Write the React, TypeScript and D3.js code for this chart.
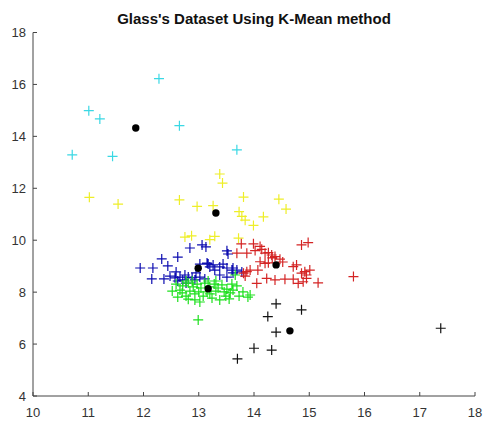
import React from "react";
import * as d3 from "d3";

const W = 484;
const H = 423;

const title = "Glass's Dataset Using K-Mean method";
const xTicks = [10, 11, 12, 13, 14, 15, 16, 17, 18];
const yTicks = [4, 6, 8, 10, 12, 14, 16, 18];

type P = [number, number];

const cyanPts: P[] = [
  [12.28, 16.22], [11.01, 14.99], [11.21, 14.67], [12.65, 14.41],
  [10.71, 13.29], [11.44, 13.23], [13.69, 13.48],
];

const yellowPts: P[] = [
  [11.02, 11.65], [11.54, 11.39], [12.65, 11.55], [12.97, 11.30], [13.26, 11.33],
  [13.38, 12.55], [13.43, 12.20], [13.81, 11.66], [13.73, 11.10], [13.78, 10.92],
  [13.84, 10.77], [13.99, 10.57], [14.17, 10.90], [14.45, 11.58], [14.58, 11.20],
  [12.75, 10.12], [12.87, 10.17], [13.20, 10.02], [13.29, 10.15], [13.72, 10.08],
];

const bluePts: P[] = [
  [11.94, 8.93], [12.17, 8.93], [12.15, 8.51], [12.33, 9.28], [12.44, 9.01],
  [12.62, 9.35], [12.84, 9.70], [13.06, 9.82], [13.13, 9.74], [13.51, 9.59],
  [13.53, 9.47], [13.02, 9.08], [13.17, 9.08], [13.20, 8.97], [13.38, 8.97],
  [13.44, 9.08], [13.51, 8.93], [13.62, 8.93], [13.69, 8.85], [13.78, 8.78],
  [12.57, 8.55], [12.66, 8.58], [12.75, 8.66], [12.81, 8.58], [12.88, 8.55],
  [12.71, 8.47], [13.38, 8.66], [13.51, 8.58], [13.62, 8.74], [13.15, 9.12],
  [13.26, 9.05], [13.60, 8.85], [12.62, 8.43], [12.77, 8.35], [12.93, 8.47],
  [13.02, 8.58], [13.11, 8.51], [12.48, 8.62], [12.37, 8.51], [12.59, 8.78],
  [12.95, 8.74], [13.29, 8.85],
];

const greenPts: P[] = [
  [12.52, 8.04], [12.59, 8.31], [12.66, 8.08], [12.71, 8.24], [12.77, 7.85],
  [12.81, 8.35], [12.84, 8.04], [12.90, 8.20], [12.93, 7.70], [12.97, 8.31],
  [13.00, 8.01], [13.04, 8.16], [13.08, 7.85], [13.11, 8.35], [13.15, 8.01],
  [13.20, 8.20], [13.24, 7.77], [13.28, 8.31], [13.31, 8.04], [13.35, 8.16],
  [13.38, 7.70], [13.42, 8.28], [13.46, 8.01], [13.51, 8.12], [13.55, 7.74],
  [13.60, 8.31], [13.66, 8.66], [13.69, 8.24], [13.73, 7.85], [13.80, 8.01],
  [13.89, 7.81], [13.93, 7.89], [12.77, 8.43], [12.88, 8.43], [13.17, 8.43],
  [13.31, 8.43], [12.62, 7.81], [13.02, 7.62], [13.49, 7.85], [13.20, 7.93],
  [12.93, 7.93], [12.70, 7.97], [13.57, 7.97], [13.62, 8.08], [12.81, 7.73],
  [12.99, 6.93],
];

const redPts: P[] = [
  [13.77, 9.86], [13.99, 9.86], [13.69, 9.50], [13.87, 9.50], [14.02, 9.60],
  [14.14, 9.65], [14.20, 9.50], [14.26, 9.52], [14.32, 9.43], [14.38, 9.37],
  [14.11, 9.17], [14.20, 9.11], [14.26, 9.13], [14.47, 9.27], [14.86, 9.82],
  [14.98, 9.91], [14.71, 8.98], [14.77, 9.05], [14.86, 8.73], [14.92, 8.79],
  [14.95, 8.66], [15.01, 8.85], [13.81, 8.73], [13.87, 8.79], [13.93, 8.85],
  [13.84, 8.62], [14.05, 8.34], [14.23, 8.53], [14.38, 8.47], [14.56, 8.50],
  [14.71, 8.50], [14.80, 8.34], [14.89, 8.40], [14.95, 8.53], [15.16, 8.36],
  [15.80, 8.60], [14.11, 9.76], [14.33, 9.32], [14.52, 9.16], [14.07, 8.85],
];

const blackPts: P[] = [
  [14.40, 7.55], [14.25, 7.06], [14.86, 7.32], [14.40, 6.46], [14.00, 5.84],
  [14.32, 5.77], [13.70, 5.43], [17.38, 6.61],
];

const centroids: P[] = [
  [11.86, 14.32], [13.31, 11.05], [12.99, 8.92], [13.17, 8.13], [14.40, 9.05], [14.65, 6.51],
];

const clusters: { pts: P[]; color: string }[] = [
  { pts: cyanPts, color: "#3ad8e4" },
  { pts: yellowPts, color: "#eeee28" },
  { pts: bluePts, color: "#0c0cb0" },
  { pts: greenPts, color: "#1ee01e" },
  { pts: redPts, color: "#d42424" },
  { pts: blackPts, color: "#111111" },
];

export default function App() {
  const x = d3.scaleLinear().domain([10, 18]).range([33, 475]);
  const y = d3.scaleLinear().domain([4, 18]).range([396, 32.5]);
  const s = 5;
  const cross = (p: P) => {
    const cx = x(p[0]);
    const cy = y(p[1]);
    return `M${cx - s},${cy}H${cx + s}M${cx},${cy - s}V${cy + s}`;
  };
  const axisColor = "#444";
  const font = "Arial, 'Liberation Sans', Helvetica, sans-serif";
  return (
    <svg
      width={W}
      height={H}
      style={{ position: "absolute", left: 0, top: 0, background: "#fff" }}
      fontFamily={font}
    >
      <rect width={W} height={H} fill="#fff" />
      <text x={254} y={24} textAnchor="middle" fontWeight="bold" fontSize={15} fill="#111">
        {title}
      </text>
      {clusters.map((c, i) => (
        <path key={i} d={c.pts.map(cross).join("")} stroke={c.color} strokeWidth={1.2} fill="none" />
      ))}
      {centroids.map((p, i) => (
        <circle key={i} cx={x(p[0])} cy={y(p[1])} r={3.7} fill="#000" />
      ))}
      <line x1={x(10)} x2={x(18)} y1={y(4)} y2={y(4)} stroke={axisColor} />
      <line x1={x(10)} x2={x(10)} y1={y(4)} y2={y(18)} stroke={axisColor} />
      {xTicks.map((t) => (
        <g key={t}>
          <line x1={x(t)} x2={x(t)} y1={y(4)} y2={y(4) - 4} stroke={axisColor} />
          <text x={x(t)} y={417} textAnchor="middle" fontSize={13} fill="#333">
            {t}
          </text>
        </g>
      ))}
      {yTicks.map((t) => (
        <g key={t}>
          <line x1={x(10)} x2={x(10) + 4} y1={y(t)} y2={y(t)} stroke={axisColor} />
          <text x={26} y={y(t) + 4.5} textAnchor="end" fontSize={13} fill="#333">
            {t}
          </text>
        </g>
      ))}
    </svg>
  );
}
